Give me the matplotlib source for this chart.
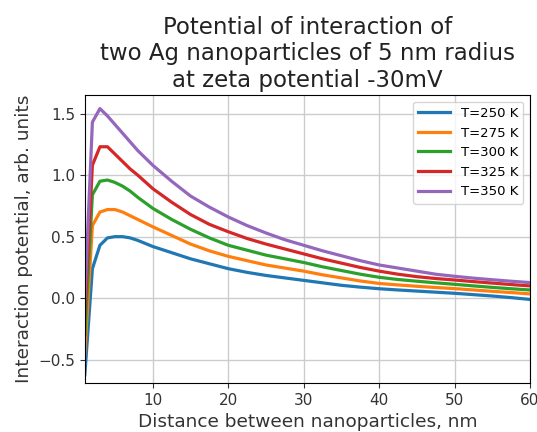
"""
Interaction potential of two Ag nanoparticles (5 nm radius, zeta -30 mV)
at several temperatures. Values read from the reference figure.
"""

import matplotlib
matplotlib.use("Agg")
import matplotlib.pyplot as plt

distance = [1, 2, 3, 4, 5, 6, 7, 8, 9,
            10, 12.5, 15, 17.5, 20, 22.5, 25, 27.5, 30, 32.5, 35,
            37.5, 40, 42.5, 45, 47.5, 50, 52.5, 55, 57.5, 60]

temperatures = [250, 275, 300, 325, 350]

u_250 = [-0.62, 0.24, 0.43, 0.49, 0.50, 0.50, 0.49, 0.47, 0.445,
         0.42, 0.37, 0.32, 0.28, 0.24, 0.21, 0.185, 0.165, 0.145, 0.125, 0.105,
         0.09, 0.077, 0.067, 0.058, 0.049, 0.04, 0.029, 0.018, 0.005, -0.01]
u_275 = [-0.45, 0.59, 0.70, 0.72, 0.72, 0.70, 0.67, 0.64, 0.61,
         0.58, 0.51, 0.44, 0.385, 0.34, 0.305, 0.27, 0.245, 0.22, 0.19, 0.165,
         0.14, 0.12, 0.108, 0.097, 0.087, 0.078, 0.067, 0.056, 0.046, 0.035]
u_300 = [-0.30, 0.84, 0.95, 0.96, 0.94, 0.91, 0.87, 0.82, 0.775,
         0.73, 0.64, 0.56, 0.49, 0.43, 0.39, 0.35, 0.32, 0.29, 0.255, 0.225,
         0.195, 0.17, 0.152, 0.138, 0.125, 0.113, 0.10, 0.088, 0.077, 0.067]
u_325 = [-0.15, 1.08, 1.23, 1.23, 1.17, 1.11, 1.05, 1.00, 0.945,
         0.89, 0.78, 0.68, 0.60, 0.54, 0.485, 0.44, 0.40, 0.36, 0.32, 0.285,
         0.25, 0.22, 0.195, 0.175, 0.16, 0.148, 0.135, 0.123, 0.111, 0.10]
u_350 = [0.00, 1.43, 1.54, 1.48, 1.41, 1.34, 1.27, 1.20, 1.14,
         1.08, 0.95, 0.83, 0.74, 0.66, 0.59, 0.53, 0.475, 0.43, 0.385, 0.345,
         0.305, 0.27, 0.245, 0.22, 0.195, 0.178, 0.163, 0.15, 0.138, 0.127]

series = [u_250, u_275, u_300, u_325, u_350]


def main():
    fig = plt.figure(figsize=(5.37, 4.32), dpi=100)
    ax = fig.add_axes([0.158, 0.113, 0.829, 0.667])

    for t, u in zip(temperatures, series):
        ax.plot(distance, u, linewidth=2.3, label=f"T={t} K")

    ax.set_xlim(1, 60)
    ax.set_ylim(-0.69, 1.65)
    ax.set_xticks([10, 20, 30, 40, 50, 60])
    ax.set_yticks([-0.5, 0.0, 0.5, 1.0, 1.5])
    ax.tick_params(labelsize=11, colors="#333333")
    ax.grid(True, color="#cccccc", linewidth=1)

    ax.set_xlabel("Distance between nanoparticles, nm", fontsize=13.3, color="#333333")
    ax.set_ylabel("Interaction potential, arb. units", fontsize=13.3, color="#333333")
    ax.set_title("Potential of interaction of\ntwo Ag nanoparticles of 5 nm radius\n"
                 "at zeta potential -30mV", fontsize=16.5, color="#222222")
    ax.legend(loc="upper right", fontsize=9.5, handlelength=2.4)

    fig.savefig("out.png", dpi=100)
    plt.close(fig)


if __name__ == "__main__":
    main()
